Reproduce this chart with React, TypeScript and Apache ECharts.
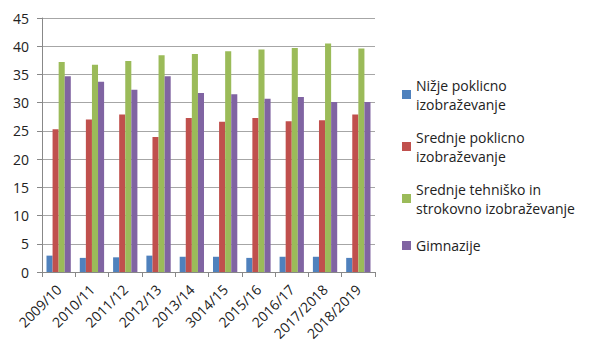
import React, { useEffect, useRef } from "react";
import * as echarts from "echarts";

const categories = ["2009/10", "2010/11", "2011/12", "2012/13", "2013/14", "3014/15", "2015/16", "2016/17", "2017/2018", "2018/2019"];
const seriesNames = [
  "Nižje poklicno izobraževanje",
  "Srednje poklicno izobraževanje",
  "Srednje tehniško in strokovno izobraževanje",
  "Gimnazije",
];
const legendLabels = [
  "Nižje poklicno\nizobraževanje",
  "Srednje poklicno\nizobraževanje",
  "Srednje tehniško in\nstrokovno izobraževanje",
  "Gimnazije",
];
const nizje = [2.9, 2.5, 2.6, 2.9, 2.7, 2.7, 2.5, 2.7, 2.7, 2.5];
const srednjePoklicno = [25.3, 27.0, 27.9, 23.9, 27.3, 26.6, 27.3, 26.7, 26.9, 27.9];
const tehnisko = [37.2, 36.7, 37.4, 38.4, 38.6, 39.1, 39.4, 39.7, 40.5, 39.6];
const gimnazije = [34.7, 33.7, 32.3, 34.7, 31.7, 31.5, 30.7, 31.0, 30.1, 30.1];
const colors = ["#4F81BD", "#C0504D", "#9BBB59", "#8064A2"];

export default function App() {
  const ref = useRef<HTMLDivElement>(null);
  useEffect(() => {
    const chart = echarts.init(ref.current!, null, { renderer: "svg" });
    const font = "'Open Sans', 'Liberation Sans', sans-serif";
    const values = [nizje, srednjePoklicno, tehnisko, gimnazije];
    chart.setOption({
      animation: false,
      color: colors,
      grid: { left: 42, right: 225, top: 18, bottom: 87 },
      legend: {
        orient: "vertical",
        left: 402,
        top: 66,
        padding: 0,
        itemWidth: 9,
        itemHeight: 9,
        itemGap: -5,
        icon: "rect",
        textStyle: { fontFamily: font, fontSize: 14, color: "#222", lineHeight: 19 },
        formatter: (name: string) => legendLabels[seriesNames.indexOf(name)],
        data: seriesNames.map((n, i) => ({
          name: n,
          textStyle: { padding: i < 3 ? [19, 0, 0, 0] : [14, 0, 14, 0] },
        })),
      },
      xAxis: {
        type: "category",
        data: categories,
        axisLine: { lineStyle: { color: "#888" } },
        axisTick: { show: true, length: 5, lineStyle: { color: "#888" } },
        axisLabel: { rotate: 45, fontFamily: font, fontSize: 14, color: "#222", margin: 15, interval: 0 },
      },
      yAxis: {
        type: "value",
        min: 0,
        max: 45,
        interval: 5,
        axisLine: { show: true, lineStyle: { color: "#888" } },
        axisTick: { show: true, length: 5, lineStyle: { color: "#888" } },
        splitLine: { lineStyle: { color: "#a6a6a6" } },
        axisLabel: { fontFamily: font, fontSize: 14, color: "#222", margin: 13 },
      },
      series: seriesNames.map((n, i) => ({
        name: n,
        type: "bar",
        data: values[i],
        barGap: "0%",
        barCategoryGap: "27%",
      })),
    });
    return () => chart.dispose();
  }, []);
  return <div ref={ref} style={{ width: 600, height: 359, position: "absolute", left: 0, top: 0 }} />;
}
